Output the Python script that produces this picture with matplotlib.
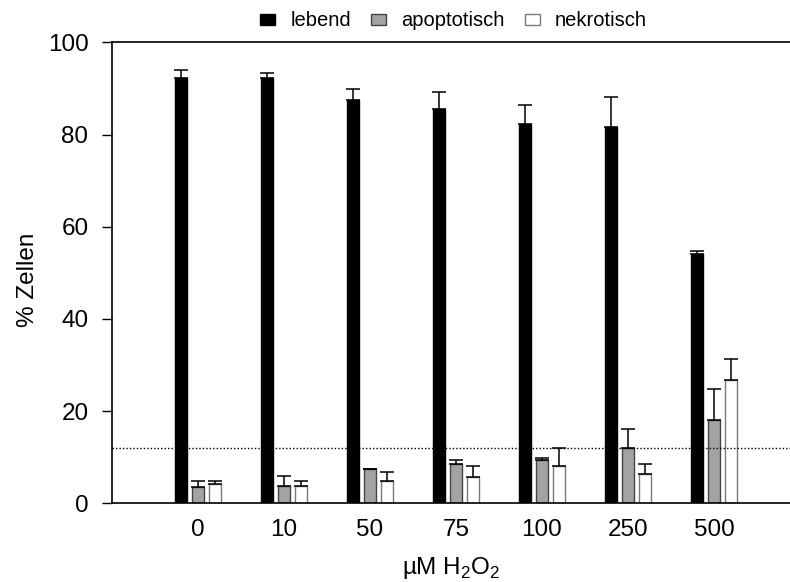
import numpy as np
import matplotlib
matplotlib.use("Agg")
import matplotlib.pyplot as plt

plt.rcParams["font.family"] = ["Liberation Sans", "DejaVu Sans"]
plt.rcParams["mathtext.fontset"] = "custom"
plt.rcParams["mathtext.rm"] = "Liberation Sans"

# --- data: % cells per H2O2 dose (mean, upper SD) ---
doses = ["0", "10", "50", "75", "100", "250", "500"]
lebend = [92.3, 92.3, 87.5, 85.5, 82.3, 81.7, 54.1]
lebend_err = [1.8, 1.0, 2.3, 3.7, 4.0, 6.4, 0.6]
apoptotisch = [3.5, 3.8, 7.4, 8.5, 9.4, 11.9, 18.0]
apoptotisch_err = [1.3, 2.1, 0.1, 1.0, 0.4, 4.2, 6.7]
nekrotisch = [4.1, 3.7, 4.8, 5.6, 8.2, 6.3, 26.7]
nekrotisch_err = [0.7, 1.1, 1.9, 2.4, 3.9, 2.2, 4.5]
threshold = 12

x = np.arange(len(doses))
width = 0.148
offset = 0.199

fig = plt.figure(figsize=(7.9, 5.82), dpi=100)
ax = fig.add_axes([0.1418, 0.1352, 0.8582, 0.7921])

series = [
    (lebend, lebend_err, -offset, "black", "black", "lebend"),
    (apoptotisch, apoptotisch_err, 0.0, "#a3a3a3", "#444444", "apoptotisch"),
    (nekrotisch, nekrotisch_err, offset, "white", "#7a7a7a", "nekrotisch"),
]
for vals, err, dx, fc, ec, lab in series:
    ax.bar(x + dx, vals, width, color=fc, edgecolor=ec, linewidth=1.0,
           label=lab, zorder=2)
    ax.errorbar(x + dx, vals, yerr=[np.zeros(len(vals)), err], fmt="none",
                ecolor="black", elinewidth=1.1, capsize=5, capthick=1.1,
                zorder=3)

# reference level
ax.axhline(threshold, color="black", linestyle=(0, (1, 1.5)), linewidth=1.0,
           zorder=4)

ax.set_xlim(-1.0, 6.884)
ax.set_ylim(0, 100)
ax.set_yticks([0, 20, 40, 60, 80, 100])
ax.set_xticks(x)
ax.set_xticklabels(doses)
ax.tick_params(axis="x", length=0, pad=11, labelsize=17.5)
ax.tick_params(axis="y", length=7, width=1.0, pad=10, labelsize=17.5)

ax.spines["right"].set_visible(False)
for s in ["left", "top", "bottom"]:
    ax.spines[s].set_linewidth(1.2)

ax.set_ylabel("% Zellen", fontsize=17.5)
ax.yaxis.set_label_coords(-0.108, 0.485)
ax.set_xlabel(r"µM H$_\mathregular{2}$O$_\mathregular{2}$", fontsize=17.5)
ax.xaxis.set_label_coords(0.5, -0.112)

fig.legend(loc="center", bbox_to_anchor=(0.574, 0.964), ncol=3,
           frameon=False, fontsize=14.5, handlelength=0.75, handleheight=0.45,
           handletextpad=0.75, columnspacing=1.0)

fig.savefig("out.png", dpi=100)
